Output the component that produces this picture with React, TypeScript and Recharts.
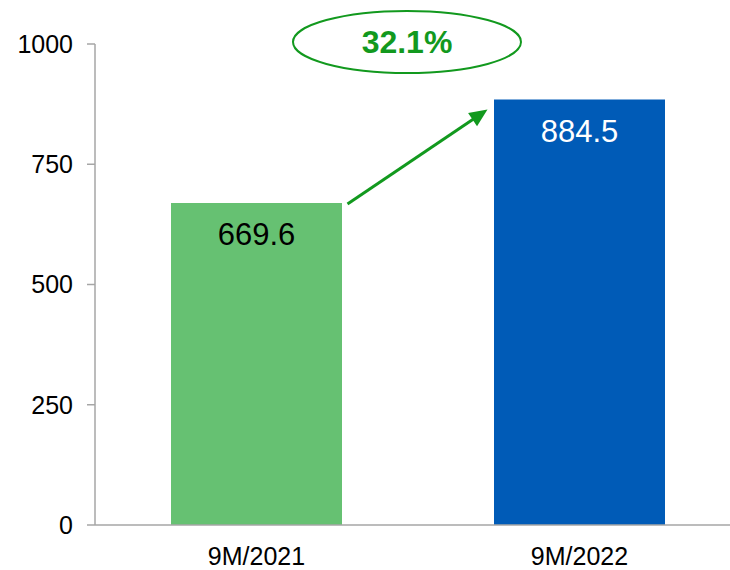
import React from "react";
import { BarChart, Bar, XAxis, YAxis, Cell, LabelList, ReferenceLine } from "recharts";

const categories = ["9M/2021", "9M/2022"];
const values = [669.6, 884.5];
const yTicks = [0, 250, 500, 750, 1000];
const growthLabel = "32.1%";

const barColors = ["#66C172", "#005BB7"];
const labelColors = ["#000000", "#FFFFFF"];
const GREEN = "#12991E";
const FONT = "'Liberation Sans', Arial, sans-serif";

const data = categories.map((c, i) => ({ name: c, value: values[i] }));

const ValueLabel = (props: any) => {
  const { x, y, width, index, value } = props;
  return (
    <text
      x={x + width / 2}
      y={y + 42}
      textAnchor="middle"
      fill={labelColors[index]}
      fontSize={31}
      fontFamily={FONT}
    >
      {Number(value).toFixed(1)}
    </text>
  );
};

const ArrowShape = (props: any) => {
  const { x1, y1, x2, y2 } = props;
  const half = 91;
  const sx = x1 + half;
  const sy = y1 + 1;
  const ex = x2 - half - 1;
  const ey = y2 + 10;
  const dx = ex - sx;
  const dy = ey - sy;
  const len = Math.sqrt(dx * dx + dy * dy);
  const ux = dx / len;
  const uy = dy / len;
  const headLen = 18;
  const headW = 8;
  const bx = ex - ux * headLen;
  const by = ey - uy * headLen;
  const px = -uy;
  const py = ux;
  return (
    <g>
      <line x1={sx} y1={sy} x2={bx + ux * 2} y2={by + uy * 2} stroke={GREEN} strokeWidth={3} />
      <polygon
        points={`${ex},${ey} ${bx + px * headW},${by + py * headW} ${bx - px * headW},${by - py * headW}`}
        fill={GREEN}
      />
    </g>
  );
};

const EllipseShape = (props: any) => {
  const { x1, y1, x2 } = props;
  const cx = (x1 + x2) / 2 - 11;
  const cy = y1 - 2;
  return (
    <g>
      <ellipse cx={cx} cy={cy} rx={114} ry={31} fill="none" stroke={GREEN} strokeWidth={2} />
      <text
        x={cx}
        y={cy + 11}
        textAnchor="middle"
        fill={GREEN}
        fontSize={32}
        fontWeight="bold"
        fontFamily={FONT}
      >
        {growthLabel}
      </text>
    </g>
  );
};

const BaseLineShape = (props: any) => {
  const { x1, y1, x2 } = props;
  return <line x1={x1} y1={y1} x2={x2 + 30} y2={y1} stroke="#A6A6A6" strokeWidth={1.5} />;
};

export default function App() {
  return (
    <div style={{ position: "absolute", left: 8, top: 8, width: 722, height: 562 }}>
      <BarChart
        width={722}
        height={562}
        data={data}
        margin={{ top: 36, right: 0, left: 0, bottom: 0 }}
        barSize={171}
        style={{ overflow: "visible" }}
      >
        <XAxis
          dataKey="name"
          tickLine={false}
          tickSize={0}
          tickMargin={22}
          height={45}
          padding={{ left: 0, right: -11 }}
          axisLine={false}
          tick={{ fill: "#000000", fontSize: 25, fontFamily: FONT }}
        />
        <YAxis
          domain={[0, 1000]}
          ticks={yTicks}
          width={87}
          tickSize={8}
          tickMargin={14}
          interval={0}
          axisLine={{ stroke: "#A6A6A6", strokeWidth: 1.5 }}
          tickLine={{ stroke: "#A6A6A6", strokeWidth: 1.5 }}
          tick={{ fill: "#000000", fontSize: 25, fontFamily: FONT }}
        />
        <ReferenceLine y={0} ifOverflow="visible" shape={<BaseLineShape />} />
        <Bar dataKey="value" isAnimationActive={false}>
          {data.map((d, i) => (
            <Cell key={d.name} fill={barColors[i]} />
          ))}
          <LabelList dataKey="value" content={<ValueLabel />} />
        </Bar>
        <ReferenceLine
          segment={[
            { x: categories[0], y: values[0] },
            { x: categories[1], y: values[1] },
          ]}
          ifOverflow="visible"
          shape={<ArrowShape />}
        />
        <ReferenceLine
          segment={[
            { x: categories[0], y: 1000 },
            { x: categories[1], y: 1000 },
          ]}
          ifOverflow="visible"
          shape={<EllipseShape />}
        />
      </BarChart>
    </div>
  );
}
